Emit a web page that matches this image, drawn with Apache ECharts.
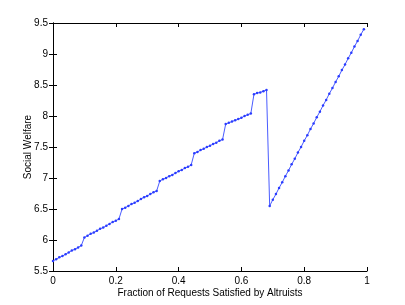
<!DOCTYPE html>
<html>
<head>
<meta charset="utf-8">
<script src="https://cdn.jsdelivr.net/npm/echarts@6/dist/echarts.min.js"></script>
<style>html,body{margin:0;padding:0;background:#fff;}#c{width:405px;height:305px;}</style>
</head>
<body>
<div id="c"></div>
<script>
var xValues = [0.00,0.01,0.02,0.03,0.04,0.05,0.06,0.07,0.08,0.09,
  0.10,0.11,0.12,0.13,0.14,0.15,0.16,0.17,0.18,0.19,
  0.20,0.21,0.22,0.23,0.24,0.25,0.26,0.27,0.28,0.29,
  0.30,0.31,0.32,0.33,0.34,0.35,0.36,0.37,0.38,0.39,
  0.40,0.41,0.42,0.43,0.44,0.45,0.46,0.47,0.48,0.49,
  0.50,0.51,0.52,0.53,0.54,0.55,0.56,0.57,0.58,0.59,
  0.60,0.61,0.62,0.63,0.64,0.65,0.66,0.67,0.68,0.69,
  0.70,0.71,0.72,0.73,0.74,0.75,0.76,0.77,0.78,0.79,
  0.80,0.81,0.82,0.83,0.84,0.85,0.86,0.87,0.88,0.89,
  0.90,0.91,0.92,0.93,0.94,0.95,0.96,0.97,0.98,0.99];
var welfare = [5.66,5.69,5.72,5.74,5.77,5.80,5.83,5.85,5.88,5.91,
  6.04,6.07,6.10,6.12,6.15,6.18,6.20,6.23,6.26,6.29,
  6.31,6.34,6.50,6.52,6.55,6.58,6.60,6.63,6.66,6.69,
  6.71,6.74,6.77,6.79,6.95,6.98,7.00,7.03,7.05,7.08,
  7.11,7.13,7.16,7.18,7.21,7.40,7.42,7.45,7.47,7.50,
  7.52,7.55,7.57,7.60,7.62,7.87,7.89,7.91,7.93,7.95,
  7.97,8.00,8.02,8.04,8.35,8.37,8.38,8.40,8.42,6.55,
  6.65,6.74,6.84,6.93,7.03,7.12,7.22,7.31,7.41,7.50,
  7.60,7.69,7.79,7.88,7.98,8.07,8.17,8.26,8.36,8.45,
  8.55,8.64,8.74,8.83,8.93,9.02,9.12,9.21,9.31,9.40];
var xTicks = [0, 0.2, 0.4, 0.6, 0.8, 1];
var yTicks = [5.5, 6, 6.5, 7, 7.5, 8, 8.5, 9, 9.5];
var xTitle = 'Fraction of Requests Satisfied by Altruists';
var yTitle = 'Social Welfare';

var font = '"Liberation Sans", Arial, sans-serif';
var axisLine = {show: true, lineStyle: {color: '#000', width: 1}};
var tick = {show: true, inside: true, length: 4, lineStyle: {color: '#000', width: 1}};
function fmt(v) { return String(Math.round(v * 10) / 10); }

var chart = echarts.init(document.getElementById('c'), null, {renderer: 'canvas'});
chart.setOption({
  animation: false,
  backgroundColor: '#fff',
  grid: {left: 53, top: 23, right: 38, bottom: 34, containLabel: false},
  xAxis: [{
    type: 'value', min: xTicks[0], max: xTicks[xTicks.length - 1], interval: 0.2,
    position: 'bottom',
    axisLine: axisLine, axisTick: tick, splitLine: {show: false},
    axisLabel: {color: '#000', fontFamily: font, fontSize: 10, margin: 5, formatter: fmt},
    name: xTitle, nameLocation: 'middle', nameGap: 17, nameMoveOverlap: false,
    nameTextStyle: {color: '#000', fontFamily: font, fontSize: 10}
  }, {
    type: 'value', min: xTicks[0], max: xTicks[xTicks.length - 1], interval: 0.2,
    position: 'top',
    axisLine: axisLine, axisTick: tick, splitLine: {show: false},
    axisLabel: {show: false}
  }],
  yAxis: [{
    type: 'value', min: yTicks[0], max: yTicks[yTicks.length - 1], interval: 0.5,
    position: 'left',
    axisLine: axisLine, axisTick: tick, splitLine: {show: false},
    axisLabel: {color: '#000', fontFamily: font, fontSize: 10, margin: 5, formatter: fmt},
    name: yTitle, nameLocation: 'middle', nameGap: 20, nameRotate: 90, nameMoveOverlap: false,
    nameTextStyle: {color: '#000', fontFamily: font, fontSize: 10}
  }, {
    type: 'value', min: yTicks[0], max: yTicks[yTicks.length - 1], interval: 0.5,
    position: 'right',
    axisLine: axisLine, axisTick: tick, splitLine: {show: false},
    axisLabel: {show: false}
  }],
  series: [{
    type: 'line',
    xAxisIndex: 0, yAxisIndex: 0,
    data: xValues.map(function (x, i) { return [x, welfare[i]]; }),
    symbol: 'circle', symbolSize: 2.5, showSymbol: true,
    itemStyle: {color: '#2a3cff'},
    lineStyle: {color: '#4a5cff', width: 1},
    clip: false
  }]
});
</script>
</body>
</html>
